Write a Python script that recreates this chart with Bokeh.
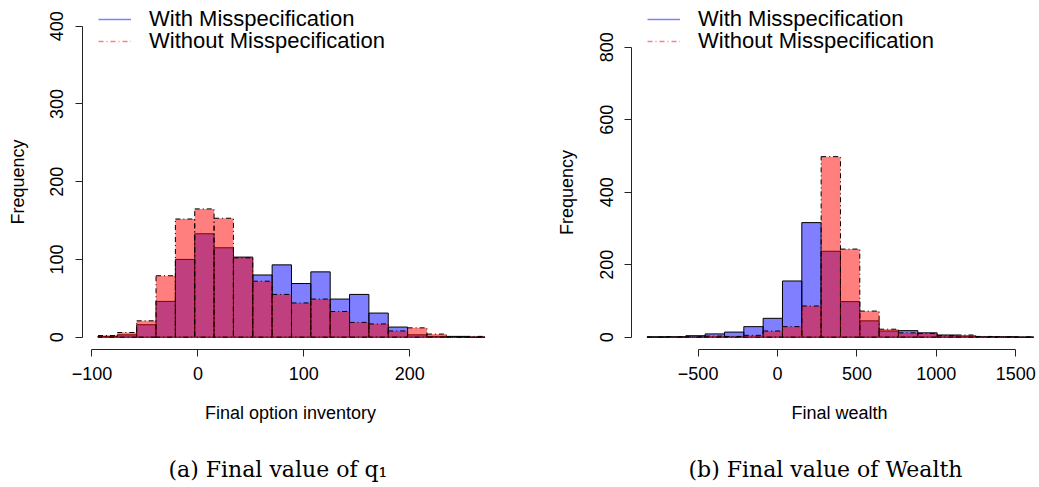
import numpy as np
from bokeh.plotting import figure
from bokeh.models import (Range1d, FixedTicker, Legend, LegendItem, ColumnDataSource,
                          Label)
from bokeh.layouts import row
from bokeh.embed import file_html
from bokeh.resources import INLINE

# ---------------- data ----------------
# Panel (a): final option inventory (20 equal bins between these limits)
q1_bin_limits = (-94.3, 271.0)
q1_with = [1, 3, 16, 46, 100, 133, 115, 103, 80, 93, 69, 84, 49, 55, 31, 13, 3, 1, 1, 0]
q1_without = [2, 6, 21, 79, 152, 165, 153, 102, 72, 55, 44, 49, 33, 19, 17, 8, 12, 4, 0, 1]
q1_xticks = [-100, 0, 100, 200]
q1_yticks = [0, 100, 200, 300, 400]

# Panel (b): final wealth (20 equal bins between these limits)
w_bin_limits = (-821.0, 1614.0)
w_with = [1, 1, 4, 9, 14, 29, 52, 155, 316, 237, 98, 45, 17, 18, 12, 6, 3, 1, 1, 0]
w_without = [0, 1, 1, 3, 2, 5, 17, 29, 86, 498, 243, 72, 22, 12, 10, 4, 6, 2, 1, 1]
w_xticks = [-500, 0, 500, 1000, 1500]
w_yticks = [0, 200, 400, 600, 800]

series_labels = ["With Misspecification", "Without Misspecification"]

SANS = "Liberation Sans"
SERIF = "DejaVu Serif"
RED_DASH = "5 3 1 3"


def minus(v):
    return str(v).replace("-", "\u2212")


def panel(limits, c_with, c_without, xticks, yticks, xr, yr, axis_at, xlabel,
          xlabel_x, caption, width, legend_x, cap_x):
    edges = np.linspace(limits[0], limits[1], len(c_with) + 1)
    p = figure(width=width, height=487, x_range=Range1d(*xr), y_range=Range1d(*yr),
               output_backend="svg", toolbar_location=None, min_border=0)
    p.xgrid.visible = False
    p.ygrid.visible = False
    p.outline_line_color = None
    p.background_fill_color = "white"
    p.border_fill_color = "white"

    s_with = ColumnDataSource(dict(left=edges[:-1], right=edges[1:], top=c_with))
    s_without = ColumnDataSource(dict(left=edges[:-1], right=edges[1:], top=c_without))
    p.quad(left="left", right="right", top="top", bottom=0, source=s_with,
           fill_color="#0000ff", fill_alpha=0.5, line_color="black", line_width=1)
    p.quad(left="left", right="right", top="top", bottom=0, source=s_without,
           fill_color="#ff0000", fill_alpha=0.5, line_color="black", line_width=1,
           line_dash=RED_DASH)

    # axes (detached, R style) placed at the edge of the R plotting region
    for ax, ticks in ((p.xaxis[0], xticks), (p.yaxis[0], yticks)):
        ax.ticker = FixedTicker(ticks=ticks)
        ax.bounds = (ticks[0], ticks[-1])
        ax.major_label_overrides = {t: minus(t) for t in ticks}
        ax.axis_line_color = "#222222"
        ax.axis_line_width = 1
        ax.major_tick_line_color = "#222222"
        ax.major_tick_out = 7
        ax.major_tick_in = 0
        ax.minor_tick_line_color = None
        ax.major_label_text_font = SANS
        ax.major_label_text_font_size = "18px"
        ax.major_label_text_color = "black"
        ax.axis_label_text_font = SANS
        ax.axis_label_text_font_size = "18px"
        ax.axis_label_text_font_style = "normal"
        ax.axis_label_text_color = "black"
    p.xaxis.fixed_location = axis_at[1]
    p.yaxis.fixed_location = axis_at[0]
    p.yaxis.axis_label = "Frequency"
    p.xaxis.major_label_standoff = 10
    p.yaxis.major_label_orientation = "vertical"
    p.yaxis.major_label_standoff = 12
    p.yaxis.axis_label_standoff = 20

    # x axis title, centred on the R plotting region
    p.add_layout(Label(x=xlabel_x, y=75, x_units="screen", y_units="screen",
                       text=xlabel, text_font=SANS, text_font_size="18px",
                       text_color="black", text_align="center", text_baseline="middle"))

    # legend keys (lines, as in the original); NaN data so only the key shows
    lw = p.line(x=[np.nan], y=[np.nan], line_color="#0000ff", line_alpha=0.5, line_width=1.5)
    lwo = p.line(x=[np.nan], y=[np.nan], line_color="#ff0000", line_alpha=0.5,
                 line_width=1.5, line_dash=RED_DASH)
    for rend, lab, ypos in ((lw, series_labels[0], 455), (lwo, series_labels[1], 433)):
        legend = Legend(items=[LegendItem(label=lab, renderers=[rend])],
                        location=(legend_x, ypos), padding=0, margin=0, spacing=0,
                        glyph_width=33, glyph_height=18, label_standoff=18,
                        label_text_font=SANS, label_text_font_size="22px",
                        label_text_color="black", border_line_color=None,
                        background_fill_alpha=0)
        p.add_layout(legend)

    # sub-figure caption below the panel
    p.add_layout(Label(x=cap_x, y=18, x_units="screen", y_units="screen",
                       text=caption, text_font=SERIF, text_font_size="22px",
                       text_color="black", text_align="left", text_baseline="middle"))
    return p


pa = panel(q1_bin_limits, q1_with, q1_without, q1_xticks, q1_yticks,
           (-186.3, 304.5), (-193.4, 433.1), (-108.9, -16.0),
           "Final option inventory", 290, "(a)  Final value of q\u2081", 520, 98, 168)
pb = panel(w_bin_limits, w_with, w_without, w_xticks, w_yticks,
           (-1618.7, 1650.0), (-414.7, 928.7), (-918.4, -34.3),
           "Final wealth", 319, "(b)  Final value of Wealth", 519, 127, 168)

layout = row(pa, pb)
open("out.html", "w").write(file_html(layout, INLINE))
